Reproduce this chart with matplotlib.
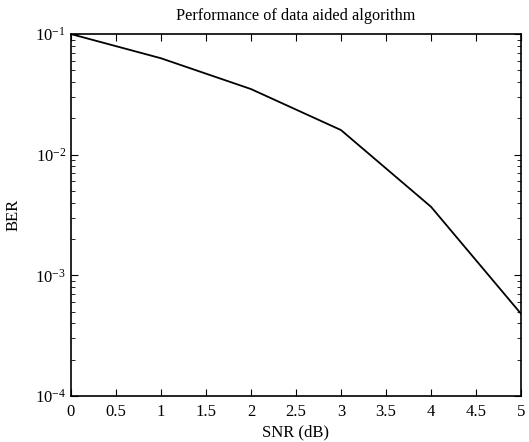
import matplotlib
matplotlib.use("Agg")
import matplotlib.pyplot as plt
from matplotlib.ticker import LogLocator, NullFormatter

# values
snr_db = [0, 1, 2, 3, 4, 5]
ber = [0.1, 0.063, 0.035, 0.016, 0.0037, 0.00048]
x_ticks = [0, 0.5, 1, 1.5, 2, 2.5, 3, 3.5, 4, 4.5, 5]
x_tick_labels = ["0", "0.5", "1", "1.5", "2", "2.5", "3", "3.5", "4", "4.5", "5"]

plt.rcParams['font.family'] = ['Liberation Serif', 'DejaVu Serif']
plt.rcParams['mathtext.fontset'] = 'stix'

fig = plt.figure(figsize=(5.29, 4.42), dpi=100)
ax = fig.add_axes([0.134, 0.104, 0.851, 0.819])

ax.semilogy(snr_db, ber, color='black', linewidth=1.3)

ax.set_xlim(0, 5)
ax.set_ylim(1e-4, 1e-1)
ax.set_xticks(x_ticks)
ax.set_xticklabels(x_tick_labels)
ax.yaxis.set_minor_locator(LogLocator(base=10, subs=range(2, 10)))
ax.yaxis.set_minor_formatter(NullFormatter())

ax.tick_params(which='both', direction='in', top=True, right=True, labelsize=12)
ax.tick_params(axis='x', pad=6)
ax.tick_params(which='major', length=5)
ax.tick_params(which='minor', length=3)
for s in ax.spines.values():
    s.set_linewidth(1.2)

ax.set_xlabel("SNR (dB)", fontsize=12, labelpad=3)
ax.set_ylabel("BER", fontsize=12, labelpad=10)
ax.set_title("Performance of data aided algorithm", fontsize=11.7, pad=10)

fig.savefig("out.png", dpi=100)
